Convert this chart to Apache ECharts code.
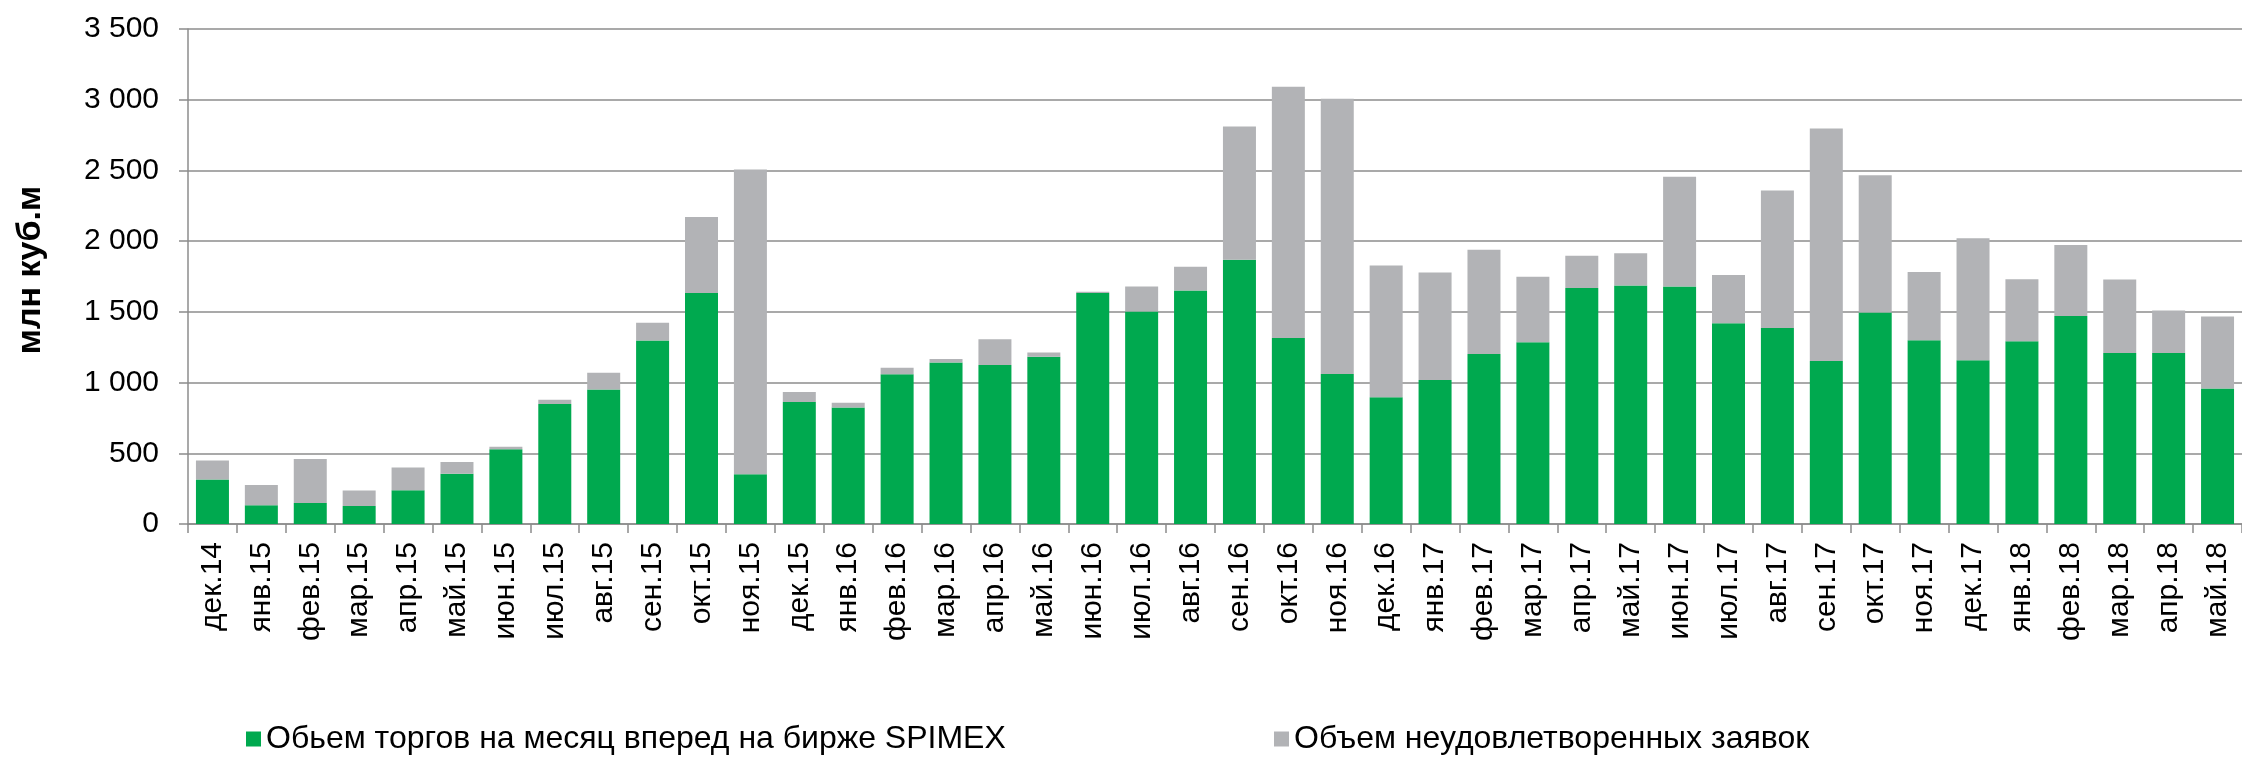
<!DOCTYPE html>
<html>
<head>
<meta charset="utf-8">
<script src="https://cdn.jsdelivr.net/npm/echarts@6/dist/echarts.min.js"></script>
<style>html,body{margin:0;padding:0;background:#fff}#c{width:2242px;height:757px}</style>
</head>
<body>
<div id="c"></div>
<script>
const categories = ['дек.14','янв.15','фев.15','мар.15','апр.15','май.15','июн.15','июл.15','авг.15','сен.15','окт.15','ноя.15','дек.15','янв.16','фев.16','мар.16','апр.16','май.16','июн.16','июл.16','авг.16','сен.16','окт.16','ноя.16','дек.16','янв.17','фев.17','мар.17','апр.17','май.17','июн.17','июл.17','авг.17','сен.17','окт.17','ноя.17','дек.17','янв.18','фев.18','мар.18','апр.18','май.18'];
const tradedVolume = [314,133,148,128,238,356,529,848,951,1297,1633,351,863,823,1059,1142,1124,1182,1633,1503,1651,1869,1315,1061,896,1019,1202,1285,1668,1686,1679,1420,1385,1152,1495,1300,1157,1292,1470,1209,1209,958];
const unmetOrders = [135,143,311,108,161,83,18,30,118,126,537,2156,70,35,45,25,183,30,10,176,168,941,1776,1945,931,760,737,464,229,228,777,341,973,1645,971,481,863,439,502,520,301,510];
const yTicks = [0,500,1000,1500,2000,2500,3000,3500];
const seriesNames = ['Обьем торгов на месяц вперед на бирже SPIMEX','Объем неудовлетворенных заявок'];
const yTitle = 'млн куб.м';

const chart = echarts.init(document.getElementById('c'));
const fmt = v => String(v).replace(/\B(?=(\d{3})+(?!\d))/g, ' ');
const legendText = {fontFamily: 'Liberation Sans', fontSize: 32, color: '#000'};
chart.setOption({
  animation: false,
  grid: {left: 188, right: -10, top: 29, bottom: 233, containLabel: false},
  legend: [
    {data: [seriesNames[0]], left: 246, top: 723, padding: 0, itemWidth: 15, itemHeight: 15, icon: 'rect', textStyle: legendText},
    {data: [seriesNames[1]], left: 1274, top: 723, padding: 0, itemWidth: 15, itemHeight: 15, icon: 'rect', textStyle: legendText}
  ],
  graphic: [{type: 'text', x: 31, y: 270, rotation: Math.PI/2,
    style: {text: yTitle, font: 'bold 34px "Liberation Sans"', fill: '#000', align: 'center', verticalAlign: 'middle'}}],
  xAxis: {
    type: 'category', data: categories,
    axisLine: {lineStyle: {color: '#8c8c8c', width: 1.5}},
    axisTick: {show: true, length: 9, alignWithLabel: false, lineStyle: {color: '#8c8c8c', width: 1.5}},
    axisLabel: {rotate: 90, fontFamily: 'Liberation Sans', fontSize: 30, color: '#000', margin: 18, interval: 0}
  },
  yAxis: {
    type: 'value', min: 0, max: 3500, interval: 500,
    axisLine: {show: true, lineStyle: {color: '#8c8c8c', width: 1.5}},
    axisTick: {show: true, length: 9, lineStyle: {color: '#8c8c8c', width: 1.5}},
    splitLine: {lineStyle: {color: '#8c8c8c', width: 1.5}},
    axisLabel: {fontFamily: 'Liberation Sans', fontSize: 30, color: '#000', margin: 29,
      formatter: v => yTicks.includes(v) ? fmt(v) : ''}
  },
  series: [
    {name: seriesNames[0], type: 'bar', stack: 's', data: tradedVolume, barWidth: 33,
     itemStyle: {color: '#00A94F'}},
    {name: seriesNames[1], type: 'bar', stack: 's', data: unmetOrders, barWidth: 33,
     itemStyle: {color: '#B2B3B6'}}
  ]
});
</script>
</body>
</html>
